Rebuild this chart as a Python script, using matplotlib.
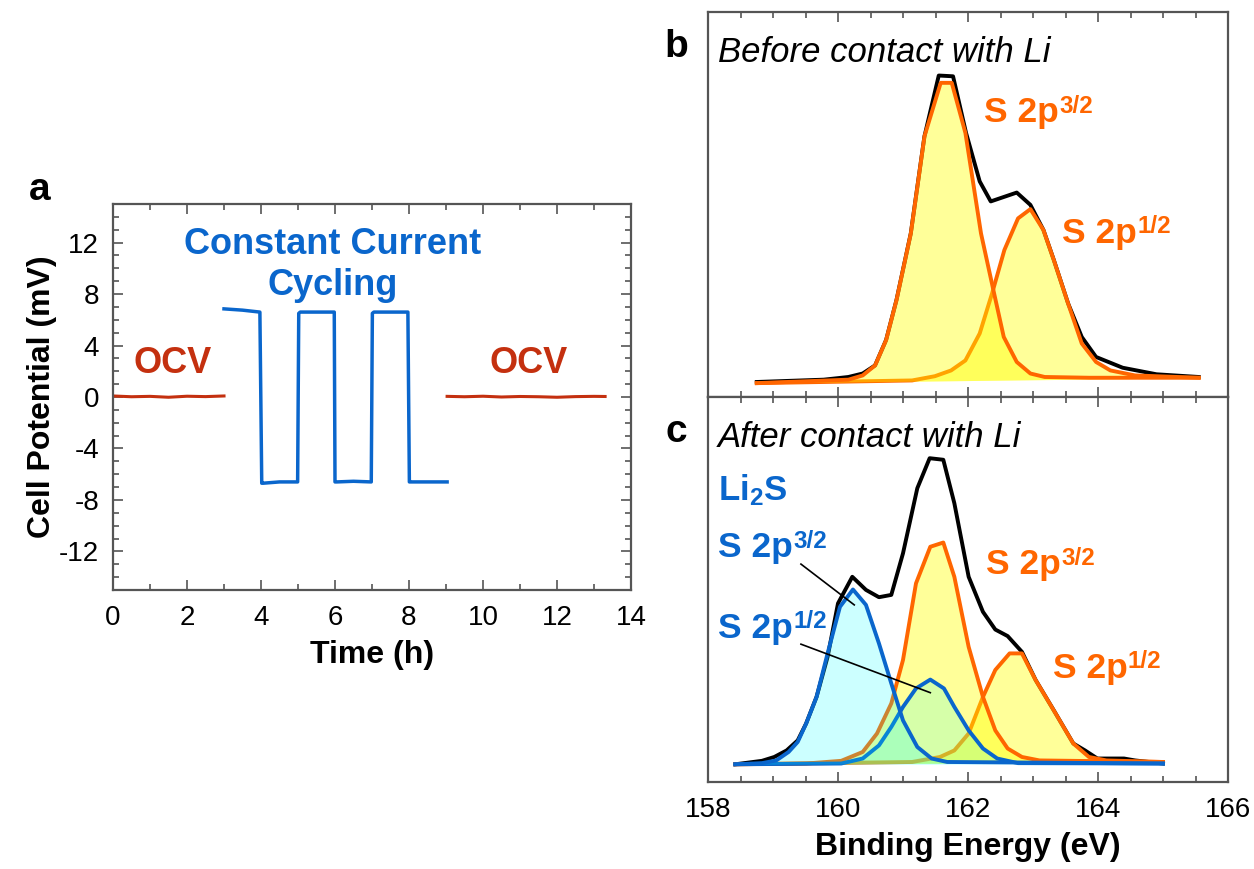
import numpy as np
import matplotlib
matplotlib.use('Agg')
import matplotlib.pyplot as plt
from matplotlib.ticker import MultipleLocator, NullLocator

plt.rcParams['font.family'] = ['Liberation Sans', 'DejaVu Sans']
plt.rcParams['mathtext.fontset'] = 'custom'
plt.rcParams['mathtext.rm'] = 'Liberation Sans'
plt.rcParams['mathtext.bf'] = 'Liberation Sans:bold'
plt.rcParams['mathtext.it'] = 'Liberation Sans:italic'
plt.rcParams['axes.unicode_minus'] = False

BLUE = '#0a66cc'
RED = '#c4300f'
ORANGE = '#ff6600'
GREY = '#555555'
TICKFONT = ['Liberation Sans Narrow', 'Liberation Sans']

# --- (a) symmetric cell, OCV rest / constant current / OCV rest ---
ocv1_t = [0.0, 0.5, 1.0, 1.5, 2.0, 2.5, 3.0]
ocv1_v = [0.08, 0.02, 0.05, -0.02, 0.06, 0.03, 0.08]
cc_t = [3.0, 3.5, 3.97, 4.02, 4.06, 4.5, 4.99, 5.02, 5.06, 5.5, 5.98, 6.0, 6.05, 6.5,
        6.98, 7.01, 7.05, 7.5, 7.97, 8.01, 8.06, 8.5, 9.03]
cc_v = [6.85, 6.75, 6.6, -6.7, -6.7, -6.6, -6.6, 6.5, 6.6, 6.6, 6.6, -6.6, -6.6, -6.55,
        -6.6, 6.5, 6.6, 6.6, 6.6, -6.6, -6.6, -6.6, -6.6]
ocv2_t = [9.03, 9.5, 10.0, 10.5, 11.0, 11.5, 12.0, 12.5, 13.0, 13.3]
ocv2_v = [0.05, 0.02, 0.06, 0.0, 0.04, 0.02, -0.02, 0.03, 0.05, 0.04]

# --- (b) S 2p before contact with Li ---
b_be = [158.75, 159.78, 160.0, 160.16, 160.38, 160.57, 160.74, 160.9, 161.12, 161.33, 161.55,
        161.77, 161.97, 162.18, 162.35, 162.75, 162.96, 163.16, 163.32, 163.54, 163.75, 163.97,
        164.38, 164.9, 165.55]
b_raw = [3.9, 4.5, 4.9, 5.2, 6.1, 8.2, 14.8, 25.2, 42.5, 67.7, 83.5, 83.3, 68.6, 56.0, 50.8,
         53.1, 49.9, 43.4, 35.6, 24.3, 15.6, 10.4, 7.6, 5.9, 5.2]
b32_be = [158.75, 160.16, 160.38, 160.57, 160.74, 160.9, 161.12, 161.33, 161.58, 161.75, 161.96,
          162.2, 162.39, 162.55, 162.75, 162.96, 163.18, 163.86, 165.55]
b32_i = [3.6, 4.5, 5.6, 8.2, 14.8, 25.2, 42.5, 67.7, 81.6, 81.6, 68.6, 42.5, 27.8, 15.6, 9.1,
         6.1, 5.2, 5.0, 5.0]
b12_be = [158.75, 161.14, 161.49, 161.74, 161.96, 162.18, 162.37, 162.56, 162.77, 162.96, 163.16,
          163.32, 163.54, 163.75, 163.97, 164.19, 164.57, 165.55]
b12_i = [3.6, 4.3, 5.4, 6.9, 9.5, 16.5, 26.9, 38.2, 46.4, 48.8, 43.4, 35.6, 24.3, 13.9, 9.1,
         6.9, 5.6, 5.0]

# --- (c) S 2p after contact with Li ---
c_be = [158.42, 158.83, 159.02, 159.21, 159.38, 159.51, 159.67, 159.84, 160.0, 160.22, 160.43,
        160.63, 160.82, 161.0, 161.22, 161.41, 161.62, 161.79, 162.01, 162.23, 162.42, 162.61,
        162.83, 163.04, 163.32, 163.62, 163.8, 163.99, 164.4, 164.57, 165.0]
c_raw = [4.6, 5.5, 6.5, 8.2, 10.8, 15.2, 22.1, 32.5, 46.4, 53.3, 49.9, 48.0, 48.6, 59.4, 76.3,
         84.1, 83.7, 72.4, 53.3, 44.2, 39.6, 37.9, 33.8, 26.5, 18.6, 10.0, 8.2, 6.1, 6.1, 5.6, 4.8]
c32_be = [158.42, 159.51, 160.05, 160.38, 160.6, 160.82, 161.0, 161.2, 161.42, 161.62, 161.79,
          162.01, 162.23, 162.42, 162.61, 162.83, 163.1, 165.0]
c32_i = [4.6, 4.8, 5.5, 7.8, 12.6, 20.4, 31.7, 51.6, 61.1, 62.2, 53.3, 35.1, 22.1, 13.4, 8.7,
         6.5, 5.6, 5.2]
c12_be = [158.42, 161.14, 161.57, 161.79, 162.01, 162.23, 162.42, 162.64, 162.83, 163.04, 163.32,
          163.62, 163.86, 164.13, 165.0]
c12_i = [4.6, 5.2, 6.5, 8.2, 12.6, 22.1, 29.1, 33.4, 33.4, 26.5, 18.6, 10.0, 6.5, 5.6, 5.2]
li32_be = [158.42, 158.83, 159.05, 159.24, 159.38, 159.51, 159.67, 159.84, 160.03, 160.23, 160.43,
           160.63, 160.82, 161.0, 161.22, 161.44, 161.68, 165.0]
li32_i = [4.6, 4.9, 5.6, 7.8, 10.4, 15.2, 22.1, 33.4, 45.5, 50.0, 46.0, 36.0, 25.6, 16.0, 9.1,
          6.1, 5.2, 4.8]
li12_be = [158.42, 160.05, 160.38, 160.63, 160.82, 161.0, 161.2, 161.42, 161.63, 161.79, 162.01,
           162.23, 162.45, 162.77, 165.0]
li12_i = [4.6, 4.8, 6.1, 9.5, 14.3, 19.5, 24.3, 26.6, 24.3, 19.5, 13.4, 8.7, 6.1, 4.9, 4.8]


def style_frame(ax):
  for s in ax.spines.values():
    s.set_color(GREY)
    s.set_linewidth(1.6)
  ax.tick_params(which='both', direction='in', color=GREY, width=1.2,
                 top=True, right=True, labelsize=20)
  ax.tick_params(which='major', length=7)
  ax.tick_params(which='minor', length=4)
  for lab in ax.get_xticklabels() + ax.get_yticklabels():
    lab.set_family(TICKFONT)


def fill_peak(ax, x, y, color, alpha, z):
  x = np.asarray(x)
  y = np.asarray(y)
  base = np.interp(x, [x[0], x[-1]], [y[0], y[-1]])
  ax.fill_between(x, base, y, color=color, alpha=alpha, lw=0, zorder=z)


def orbital(ax, x, y, sup, color, size=25.5):
  # "S 2p" with a bold fractional superscript placed right after it
  t = ax.text(x, y, 'S 2p', color=color, fontsize=size, fontweight='bold', zorder=6)
  bb = t.get_window_extent(renderer=fig.canvas.get_renderer())
  ax.annotate(sup, xy=(x, y), xycoords='data',
              xytext=(bb.width * 72.0 / fig.dpi + 0.5, 0.27 * size), textcoords='offset points',
              color=color, fontsize=size * 0.68, fontweight='bold', zorder=6)


fig = plt.figure(figsize=(12.54, 8.69), dpi=100)

# panel a
axa = fig.add_axes([113/1254, 1 - 590/869, 518/1254, 386/869])
axa.plot(ocv1_t, ocv1_v, color=RED, lw=2.2)
axa.plot(cc_t, cc_v, color=BLUE, lw=2.5)
axa.plot(ocv2_t, ocv2_v, color=RED, lw=2.2)
axa.set_xlim(0, 14)
axa.set_ylim(-15, 15)
axa.xaxis.set_major_locator(MultipleLocator(2))
axa.xaxis.set_minor_locator(MultipleLocator(1))
axa.yaxis.set_major_locator(MultipleLocator(4))
axa.yaxis.set_minor_locator(MultipleLocator(1))
axa.set_yticks([-12, -8, -4, 0, 4, 8, 12])
style_frame(axa)
axa.tick_params(axis='x', pad=11)
axa.tick_params(axis='y', pad=10)
axa.set_xlabel('Time (h)', fontsize=23, fontweight='bold')
axa.set_ylabel('Cell Potential (mV)', fontsize=23, fontweight='bold')
axa.xaxis.set_label_coords(0.5, -0.13)
axa.yaxis.set_label_coords(-0.108, 0.5)
axa.text(5.93, 11.1, 'Constant Current', color=BLUE, fontsize=26, fontweight='bold', ha='center')
axa.text(5.93, 7.9, 'Cycling', color=BLUE, fontsize=26, fontweight='bold', ha='center')
axa.text(1.6, 1.9, 'OCV', color=RED, fontsize=26, fontweight='bold', ha='center')
axa.text(11.23, 1.9, 'OCV', color=RED, fontsize=26, fontweight='bold', ha='center')

# panel b
axb = fig.add_axes([708/1254, 1 - 397/869, 520/1254, 385/869])
axb.plot(b_be, b_raw, color='black', lw=2.8, zorder=2)
fill_peak(axb, b12_be, b12_i, '#ffff00', 0.4, 3)
axb.plot(b12_be, b12_i, color=ORANGE, lw=2.8, zorder=3.1)
fill_peak(axb, b32_be, b32_i, '#ffff00', 0.4, 3.2)
axb.plot(b32_be, b32_i, color=ORANGE, lw=2.8, zorder=3.3)
axb.set_xlim(158, 166)
axb.set_ylim(0, 100)
axb.xaxis.set_major_locator(MultipleLocator(2))
axb.xaxis.set_minor_locator(MultipleLocator(0.5))
axb.yaxis.set_major_locator(NullLocator())
style_frame(axb)
axb.tick_params(labelbottom=False)
axb.text(158.15, 87.0, 'Before contact with Li', fontsize=25, style='italic')
orbital(axb, 162.24, 71.4, '3/2', ORANGE)
orbital(axb, 163.44, 40.0, '1/2', ORANGE)

# panel c
axc = fig.add_axes([708/1254, 1 - 782/869, 520/1254, 385/869])
axc.plot(c_be, c_raw, color='black', lw=2.8, zorder=2)
fill_peak(axc, c12_be, c12_i, '#ffff00', 0.4, 3)
axc.plot(c12_be, c12_i, color=ORANGE, lw=2.8, zorder=3.1)
fill_peak(axc, c32_be, c32_i, '#ffff00', 0.4, 3.2)
axc.plot(c32_be, c32_i, color=ORANGE, lw=2.8, zorder=3.3)
fill_peak(axc, li12_be, li12_i, '#00ffff', 0.16, 3.4)
axc.plot(li12_be, li12_i, color=BLUE, lw=2.8, zorder=3.5)
fill_peak(axc, li32_be, li32_i, '#00ffff', 0.2, 3.6)
axc.plot(li32_be, li32_i, color=BLUE, lw=2.8, zorder=3.7)
axc.set_xlim(158, 166)
axc.set_ylim(0, 100)
axc.xaxis.set_major_locator(MultipleLocator(2))
axc.xaxis.set_minor_locator(MultipleLocator(0.5))
axc.yaxis.set_major_locator(NullLocator())
style_frame(axc)
axc.tick_params(axis='x', pad=11)
axc.set_xlabel('Binding Energy (eV)', fontsize=23, fontweight='bold')
axc.xaxis.set_label_coords(0.5, -0.13)
axc.text(158.15, 87.0, 'After contact with Li', fontsize=25, style='italic')
axc.text(158.15, 73.2, r'$\mathbf{Li_2S}$', color=BLUE, fontsize=25)
orbital(axc, 158.15, 58.4, '3/2', BLUE)
orbital(axc, 158.15, 37.4, '1/2', BLUE)
orbital(axc, 162.27, 54.0, '3/2', ORANGE)
orbital(axc, 163.3, 27.0, '1/2', ORANGE)
axc.plot([159.43, 160.25], [56.6, 46.0], color='black', lw=1.2, zorder=4)
axc.plot([159.43, 161.42], [35.8, 23.2], color='black', lw=1.2, zorder=4)

# panel letters
fig.text(40/1254, 1 - 200/869, 'a', fontsize=28, fontweight='bold', ha='center')
fig.text(676/1254, 1 - 57/869, 'b', fontsize=28, fontweight='bold', ha='center')
fig.text(676/1254, 1 - 442/869, 'c', fontsize=28, fontweight='bold', ha='center')

fig.savefig('out.png', dpi=100)
